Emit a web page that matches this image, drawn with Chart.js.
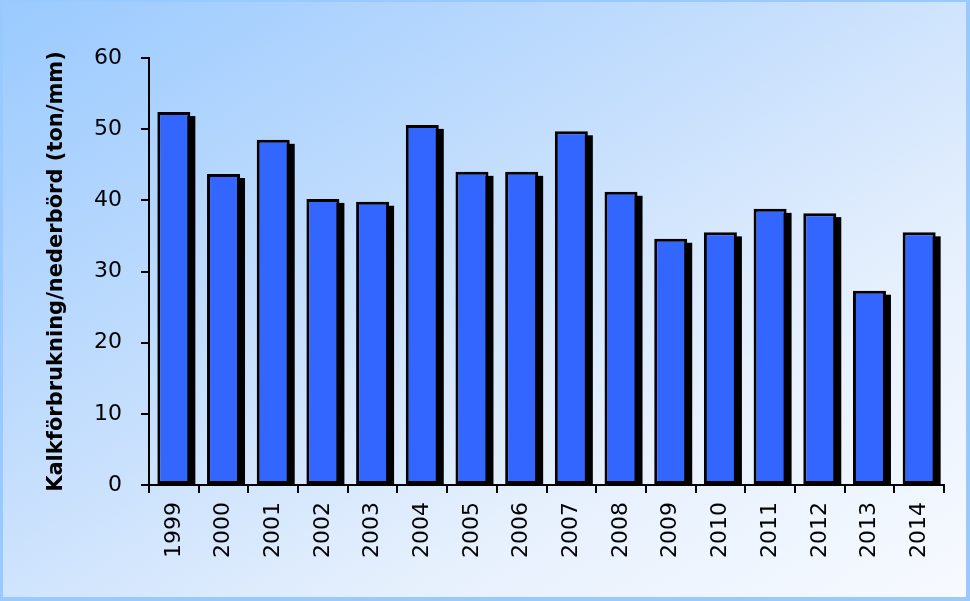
<!DOCTYPE html>
<html>
<head>
<meta charset="utf-8">
<script src="https://cdn.jsdelivr.net/npm/chart.js@4.4.1/dist/chart.umd.min.js"></script>
<style>
  html, body { margin: 0; padding: 0; }
  #frame {
    width: 970px; height: 601px; box-sizing: border-box;
    border-style: solid; border-color: #99caff;
    border-width: 2px 4px 4px 3px;
    background: linear-gradient(to bottom right, #9acaff 0%, #c4defd 40%, #e6f0fd 70%, #f7faff 100%);
    position: relative;
  }
  #wrap { position: absolute; left: -3px; top: -2px; width: 970px; height: 601px; }
</style>
</head>
<body>
<div id="frame"><div id="wrap"><canvas id="chart" width="970" height="601"></canvas></div></div>
<script>
// Data
const years = ["1999", "2000", "2001", "2002", "2003", "2004", "2005", "2006",
               "2007", "2008", "2009", "2010", "2011", "2012", "2013", "2014"];
const limePerRain = [52.4, 43.7, 48.5, 40.2, 39.8, 50.6, 44.0, 44.0,
                     49.7, 41.2, 34.6, 35.5, 38.8, 38.2, 27.3, 35.5];
const yTicks = [0, 10, 20, 30, 40, 50, 60];

// Black drop shadow behind each bar
const barShadow = {
  id: "barShadow",
  beforeDatasetsDraw(chart) {
    const ctx = chart.ctx;
    const area = chart.chartArea;
    ctx.save();
    ctx.beginPath();
    ctx.rect(area.left, area.top - 10, area.right - area.left + 10, area.bottom - area.top + 10);
    ctx.clip();
    ctx.fillStyle = "#000";
    chart.getDatasetMeta(0).data.forEach(bar => {
      const p = bar.getProps(["x", "y", "base", "width"], true);
      ctx.fillRect(p.x - p.width / 2 + 5, p.y + 4, p.width, p.base - p.y - 4);
    });
    ctx.restore();
  }
};

new Chart(document.getElementById("chart"), {
  type: "bar",
  data: {
    labels: years,
    datasets: [{
      data: limePerRain,
      backgroundColor: "#3366ff",
      borderColor: "#000",
      borderWidth: 3,
      borderSkipped: false,
      barPercentage: 0.8,
      categoryPercentage: 0.83
    }]
  },
  options: {
    responsive: false,
    animation: false,
    layout: { padding: { top: 58, right: 26, left: 0, bottom: 0 } },
    plugins: { legend: { display: false }, tooltip: { enabled: false } },
    scales: {
      x: {
        grid: { drawOnChartArea: false, tickLength: 8, color: "#000", lineWidth: 2 },
        border: { color: "#000", width: 2 },
        ticks: {
          color: "#000", minRotation: 90, maxRotation: 90, padding: 9,
          font: { family: "DejaVu Sans", size: 22 }
        },
        afterFit(scale) { scale.height = 116; }
      },
      y: {
        min: 0, max: 60,
        grid: { drawOnChartArea: false, tickLength: 8, color: "#000", lineWidth: 2 },
        border: { color: "#000", width: 2 },
        afterBuildTicks(scale) { scale.ticks = yTicks.map(v => ({ value: v })); },
        ticks: {
          color: "#000", padding: 19,
          font: { family: "DejaVu Sans", size: 22 }
        },
        title: {
          display: true,
          text: "Kalkförbrukning/nederbörd (ton/mm)",
          color: "#000",
          padding: { top: 44, bottom: 0 },
          font: { family: "DejaVu Sans", size: 21, weight: "bold" }
        },
        afterFit(scale) { scale.width = 149; }
      }
    }
  },
  plugins: [barShadow]
});
</script>
</body>
</html>
